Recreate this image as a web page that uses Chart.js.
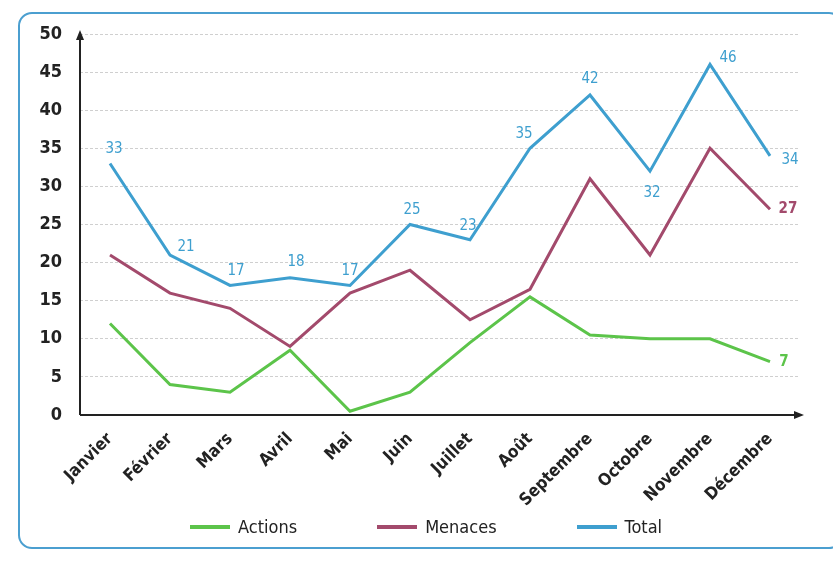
<!DOCTYPE html>
<html>
<head>
<meta charset="utf-8">
<script src="https://cdn.jsdelivr.net/npm/chart.js@4/dist/chart.umd.min.js"></script>
<style>
  html, body { margin: 0; padding: 0; background: #fff; }
  #wrap { position: relative; width: 833px; height: 569px; overflow: hidden; }
  #cadre { position: absolute; left: 18px; top: 12px; right: -10px; bottom: 20px;
           border: 2px solid #4b9fd0; border-radius: 14px; }
  canvas { position: absolute; left: 0; top: 0; }
  #legende { position: absolute; left: 190px; top: 516px; display: flex; gap: 80px;
             font: 18px 'DejaVu Sans Condensed', 'Liberation Sans', sans-serif; color: #222; }
  #legende span.item { display: flex; align-items: center; gap: 8px; }
  #legende span.trait { display: inline-block; width: 40px; height: 4px; }
</style>
</head>
<body>
<div id="wrap">
  <div id="cadre"></div>
  <canvas id="graphique" width="833" height="569"></canvas>
  <div id="legende"></div>
</div>
<script>
// Données
const mois = ['Janvier', 'Février', 'Mars', 'Avril', 'Mai', 'Juin', 'Juillet', 'Août', 'Septembre', 'Octobre', 'Novembre', 'Décembre'];
const actions = [12, 4, 3, 8.5, 0.5, 3, 9.5, 15.5, 10.5, 10, 10, 7];
const menaces = [21, 16, 14, 9, 16, 19, 12.5, 16.5, 31, 21, 35, 27];
const total = [33, 21, 17, 18, 17, 25, 23, 35, 42, 32, 46, 34];
const yTicks = [0, 5, 10, 15, 20, 25, 30, 35, 40, 45, 50];

const police = "'DejaVu Sans Condensed', 'Liberation Sans Narrow', 'Liberation Sans', Arial, sans-serif";
const vert = '#5cc44a', bordeaux = '#a34a6c', bleu = '#3e9fcf';

// décalage des étiquettes de la courbe Total
const decalTotal = [[4,-14],[16,-8],[6,-14],[6,-16],[0,-14],[2,-14],[-2,-14],[-6,-14],[0,-16],[2,22],[18,-6],[20,4]];

// Axes avec flèches
const axesFleches = {
    id: 'axesFleches',
    afterDraw(chart) {
        const ctx = chart.ctx;
        const a = chart.chartArea;
        ctx.save();
        ctx.strokeStyle = '#222';
        ctx.fillStyle = '#222';
        ctx.lineWidth = 2;
        ctx.beginPath();
        ctx.moveTo(a.left, a.bottom);
        ctx.lineTo(a.left, a.top + 4);
        ctx.moveTo(a.left, a.bottom);
        ctx.lineTo(a.right - 4, a.bottom);
        ctx.stroke();
        ctx.beginPath();
        ctx.moveTo(a.left, a.top - 4);
        ctx.lineTo(a.left - 4, a.top + 6);
        ctx.lineTo(a.left + 4, a.top + 6);
        ctx.fill();
        ctx.beginPath();
        ctx.moveTo(a.right + 4, a.bottom);
        ctx.lineTo(a.right - 6, a.bottom - 4);
        ctx.lineTo(a.right - 6, a.bottom + 4);
        ctx.fill();
        ctx.restore();
    }
};

// Étiquettes des valeurs
const etiquettes = {
    id: 'etiquettes',
    afterDatasetsDraw(chart) {
        const ctx = chart.ctx;
        ctx.save();
        ctx.font = '15px ' + police;
        ctx.textAlign = 'center';
        ctx.textBaseline = 'middle';
        const mt = chart.getDatasetMeta(2);
        mt.data.forEach((p, i) => {
            ctx.fillStyle = bleu;
            ctx.fillText(String(total[i]), p.x + decalTotal[i][0], p.y + decalTotal[i][1]);
        });
        const last = mois.length - 1;
        const pa = chart.getDatasetMeta(0).data[last];
        const pm = chart.getDatasetMeta(1).data[last];
        ctx.font = 'bold 15px ' + police;
        ctx.fillStyle = vert;
        ctx.fillText(String(actions[last]), pa.x + 14, pa.y);
        ctx.fillStyle = bordeaux;
        ctx.fillText(String(menaces[last]), pm.x + 18, pm.y);
        ctx.restore();
    }
};

const ctx = document.getElementById('graphique').getContext('2d');
const graphique = new Chart(ctx, {
    type: 'line',
    data: {
        labels: mois,
        datasets: [
            { label: 'Actions', data: actions, borderColor: vert, backgroundColor: vert, borderWidth: 3, pointRadius: 0, tension: 0 },
            { label: 'Menaces', data: menaces, borderColor: bordeaux, backgroundColor: bordeaux, borderWidth: 3, pointRadius: 0, tension: 0 },
            { label: 'Total', data: total, borderColor: bleu, backgroundColor: bleu, borderWidth: 3, pointRadius: 0, tension: 0 }
        ]
    },
    options: {
        responsive: false,
        animation: false,
        layout: { padding: { top: 34, right: 33, left: 0, bottom: 0 } },
        scales: {
            x: {
                offset: true,
                grid: { display: false },
                border: { display: false },
                ticks: {
                    color: '#222',
                    font: { family: police, size: 17, weight: 'bold' },
                    minRotation: 45, maxRotation: 45,
                    padding: 6
                },
                afterFit(s) { s.height = 154; }
            },
            y: {
                min: 0, max: 50,
                afterBuildTicks(s) { s.ticks = yTicks.map(v => ({ value: v })); },
                grid: {
                    drawTicks: false,
                    color: c => (c.tick && c.tick.value === 0) ? 'rgba(0,0,0,0)' : '#cfcfcf',
                    lineWidth: 1
                },
                border: { display: false, dash: [3, 2] },
                ticks: {
                    color: '#222',
                    font: { family: police, size: 18, weight: 'bold' },
                    padding: 18
                },
                afterFit(s) { s.width = 80; }
            }
        },
        plugins: {
            legend: { display: false },
            tooltip: { enabled: false }
        }
    },
    plugins: [axesFleches, etiquettes]
});

// Légende en HTML
const legende = document.getElementById('legende');
graphique.data.datasets.forEach(ds => {
    const item = document.createElement('span');
    item.className = 'item';
    const trait = document.createElement('span');
    trait.className = 'trait';
    trait.style.background = ds.borderColor;
    const txt = document.createElement('span');
    txt.textContent = ds.label;
    item.appendChild(trait);
    item.appendChild(txt);
    legende.appendChild(item);
});
</script>
</body>
</html>
